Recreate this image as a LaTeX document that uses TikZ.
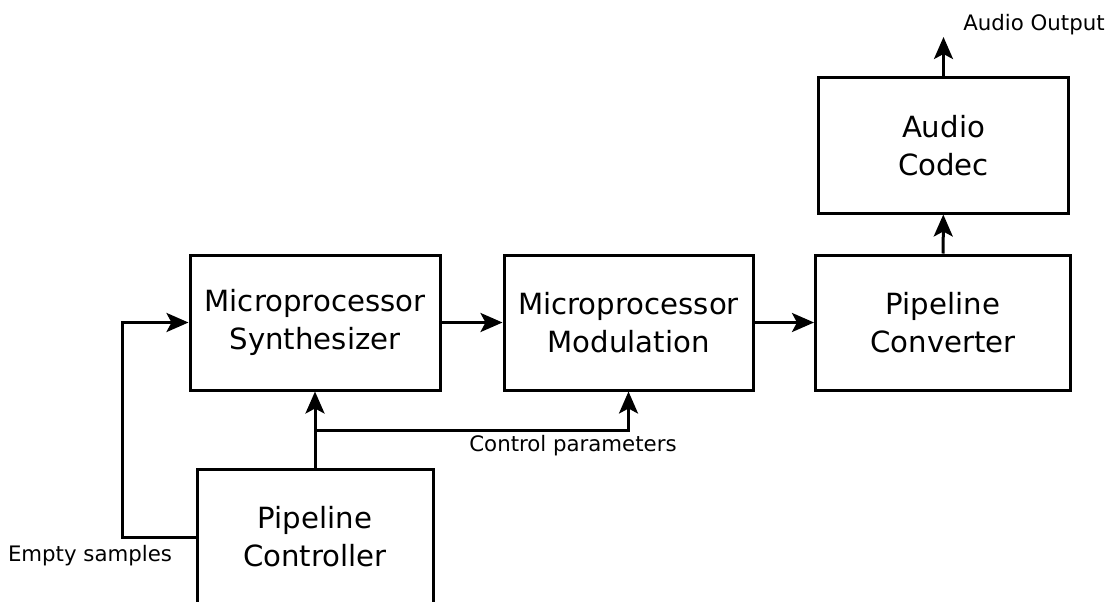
\documentclass[tikz,border=0pt]{standalone}
\usepackage{fontspec}
\setmainfont{DejaVu Sans}
\usetikzlibrary{arrows.meta}
\tikzset{
  block/.style={draw,line width=3pt,minimum width=250pt,minimum height=135pt,align=center,font=\fontsize{29.2}{38}\selectfont},
  flow/.style={line width=3pt,-{Stealth[length=22pt,width=19pt,inset=5pt]}},
  lbl/.style={font=\fontsize{21.3}{25}\selectfont}
}
\begin{document}
\begin{tikzpicture}[x=1pt,y=-1pt]
\useasboundingbox (0,0) rectangle (1109,602);
\clip (0,0) rectangle (1109,602);

% Blocks
\node[block] (synth) at (315,322.5) {Microprocessor\\Synthesizer};
\node[block,minimum width=249pt] (mod) at (628.5,322.5) {Microprocessor\\Modulation};
\node[block,minimum width=255pt] (conv) at (943,322.5) {Pipeline\\Converter};
\node[block] (codec) at (943.5,145.5) {Audio\\Codec};
\node[block,minimum width=236pt,minimum height=136pt] (ctrl) at (315,537) {Pipeline\\Controller};

% Helper points
\coordinate (loop) at (122,537);
\coordinate (split) at (315,430);
\coordinate (out) at (943.5,37);

% Connections
\draw[flow] (synth) -- (mod);
\draw[flow] (mod) -- (conv);
\draw[flow] (conv) -- (codec);
\draw[flow] (codec) -- (out);
\draw[flow] (ctrl) -- (synth);
\draw[flow] (split) -| (mod.south);
\draw[flow] (ctrl.west) -- (loop) |- (synth.west);

% Labels
\node[lbl] (ctrllbl) at (573,446) {Control parameters};
\node[lbl] (emptylbl) at (90,556) {Empty samples};
\node[lbl] (outlbl) at (1034,25) {Audio Output};
\end{tikzpicture}
\end{document}
